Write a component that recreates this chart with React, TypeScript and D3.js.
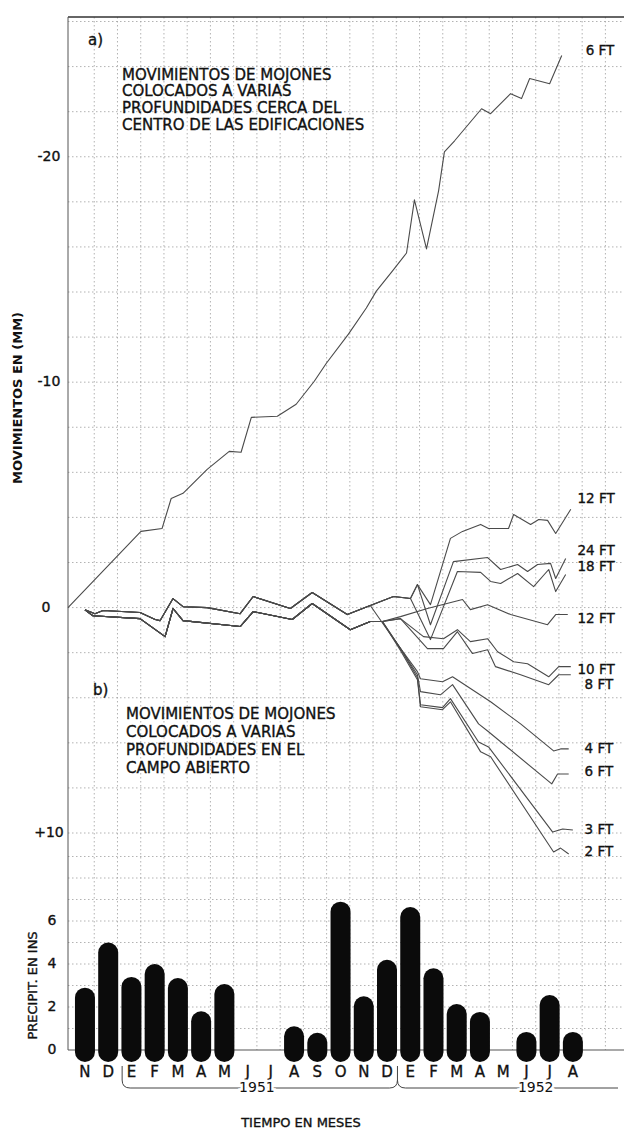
import React from "react";
import * as d3 from "d3";

// ---------- DATA (month index: 0 = N 1950 ; movement in mm, negative = up) ----------
const months = ["N","D","E","F","M","A","M","J","J","A","S","O","N","D","E","F","M","A","M","J","J","A"];
const precip = [2.9,5.0,3.4,4.0,3.35,1.8,3.07,0,0,1.1,0.8,6.9,2.5,4.2,6.65,3.8,2.14,1.77,0,0.84,2.56,0.84];
const mmTicks = [-20, -10, 0, 10];
const mmTickLabels = ["-20", "-10", "0", "+10"];
const precipTicks = [0, 2, 4, 6];

const ft6a = [[-0.73,0],[2.41,-3.38],[3.32,-3.51],[3.71,-4.84],[4.22,-5.07],[5.26,-6.13],[6.21,-6.93],[6.72,-6.89],[7.16,-8.44],[8.28,-8.49],[9.09,-9.02],[9.87,-10.04],[10.39,-10.84],[11.34,-12.13],[12.11,-13.29],[12.54,-14.04],[13.23,-14.93],[13.84,-15.73],[14.18,-18.09],[14.7,-15.91],[15.22,-18.49],[15.47,-20.22],[15.91,-20.71],[17.07,-22.13],[17.46,-21.91],[18.32,-22.8],[18.79,-22.58],[19.14,-23.47],[20.0,-23.24],[20.52,-24.49]];

const pathU = [[0,0.1],[0.43,0.27],[0.78,0.13],[2.37,0.22],[3.02,0.53],[3.23,0.58],[3.79,-0.4],[4.22,-0.04],[5.26,0],[6.68,0.27],[7.24,-0.49],[8.84,0.04],[9.78,-0.67],[11.29,0.31],[12.28,-0.09]];
const pathL = [[0,0.1],[0.34,0.36],[2.37,0.49],[3.45,1.29],[3.79,0.04],[4.22,0.58],[6.68,0.84],[7.24,0.18],[8.92,0.53],[9.78,-0.18],[11.42,0.98],[12.28,0.62],[12.8,0.62]];

const ft12top = [...pathU, [13.28,-0.49],[14.01,-0.4],[14.31,-1.02],[14.87,-0.13],[15.73,-3.07],[16.25,-3.38],[17.03,-3.69],[17.37,-3.51],[18.23,-3.51],[18.45,-4.13],[19.18,-3.69],[19.53,-3.91],[19.91,-3.87],[20.26,-3.29],[20.91,-4.36]];
const ft24 = [...pathU, [13.28,-0.49],[14.01,-0.4],[14.31,-1.02],[14.87,0.76],[15.86,-2.04],[17.33,-2.22],[17.89,-1.69],[18.62,-1.91],[19.05,-1.6],[19.48,-1.91],[20.04,-1.96],[20.26,-1.29],[20.69,-2.18]];
const ft18 = [...pathU, [13.28,-0.49],[14.01,-0.4],[14.87,1.42],[16.03,-1.6],[17.03,-1.56],[17.46,-1.16],[17.89,-1.07],[18.62,-1.51],[19.31,-0.93],[19.96,-1.69],[20.26,-0.71],[20.69,-1.47]];
const ft12mid = [...pathL, [13.58,0.4],[14.74,0.04],[16.25,-0.36],[16.59,0.09],[17.33,-0.13],[18.32,0.31],[19.91,0.76],[20.26,0.31],[20.78,0.31]];
const ft10 = [...pathL, [13.58,0.49],[14.57,1.29],[15.43,1.38],[16.03,0.98],[16.59,1.51],[17.33,1.38],[17.76,1.96],[18.45,2.4],[19.05,2.49],[19.96,3.07],[20.39,2.62],[20.91,2.62]];
const ft8 = [...pathL, [13.58,0.49],[14.74,1.82],[15.43,1.82],[16.03,1.07],[16.68,2.04],[17.33,1.87],[17.67,2.62],[18.75,2.98],[19.96,3.42],[20.39,2.98],[20.91,2.98]];
const ft4 = [...pathU, [13.28,1.38],[14.31,2.84],[14.44,3.16],[15.39,3.29],[15.82,3.07],[17.46,4.18],[18.75,5.16],[20.17,6.36],[20.47,6.27],[20.82,6.27]];
const ft6b = [...pathL, [13.58,1.82],[14.31,2.98],[14.44,3.73],[15.3,3.87],[15.82,3.42],[16.94,5.16],[17.37,5.51],[20.09,7.82],[20.34,7.38],[20.82,7.38]];
const ft3 = [...pathL, [13.58,1.82],[14.31,3.1],[14.44,4.31],[15.39,4.44],[15.73,4.04],[16.94,5.96],[17.37,6.18],[20.13,9.96],[20.56,9.82],[21.0,9.87]];
const ft2 = [...pathL, [13.58,1.9],[14.31,3.2],[14.44,4.4],[15.39,4.53],[15.73,4.18],[17.03,6.4],[17.46,6.62],[20.17,10.84],[20.47,10.67],[20.82,10.93]];

const seriesList = [ft6a, ft12top, ft24, ft18, ft12mid, ft10, ft8, ft4, ft6b, ft3, ft2];
const seriesLabels = ["6 FT","12 FT","24 FT","18 FT","12 FT","10 FT","8 FT","4 FT","6 FT","3 FT","2 FT"];
const labelMm = [-24.7,-4.8,-2.49,-1.82,0.49,2.76,3.42,6.27,7.29,9.87,10.84];
const labelMonth = [21.55,21.2,21.2,21.2,21.2,21.2,21.5,21.5,21.5,21.5,21.5];

const titleA = ["MOVIMIENTOS DE MOJONES","COLOCADOS A VARIAS","PROFUNDIDADES CERCA DEL","CENTRO DE LAS EDIFICACIONES"];
const titleB = ["MOVIMIENTOS DE MOJONES","COLOCADOS A VARIAS","PROFUNDIDADES EN EL","CAMPO ABIERTO"];

export default function App() {
  const W = 624, H = 1130;
  const x = d3.scaleLinear().domain([-0.73, 23.2]).range([68, 624]);
  const y = d3.scaleLinear().domain([-26.2, 10]).range([17, 833]);
  const yp = d3.scaleLinear().domain([0, 9]).range([1050, 856.5]);
  const line = d3.line<number[]>().x(d => x(d[0])).y(d => y(d[1]));
  const font = "'DejaVu Sans', Verdana, sans-serif";

  const vGrid = d3.range(0, 23).map(k => k + 0.4);
  const hGrid = d3.range(-26, 10.1, 2);
  const pGrid = d3.range(1, 10);

  const xB1 = x(1.6), xMid = x(13.45), yBr = 1088;
  const ink = { fill: "#111", stroke: "#111", strokeWidth: 0.35 };

  return (
    <svg width={W} height={H} style={{ position: "absolute", left: 0, top: 0, background: "#fff" }} fontFamily={font}>
      <rect width={W} height={H} fill="#fff" />
      {/* grid */}
      <g stroke="#a0a0a0" strokeWidth={0.8} strokeDasharray="1.5 2.5">
        {vGrid.map((m, i) => <line key={"v" + i} x1={x(m)} x2={x(m)} y1={y(-26.2)} y2={yp(0)} />)}
        {hGrid.map((v, i) => <line key={"h" + i} x1={x(-0.73)} x2={W} y1={y(v)} y2={y(v)} />)}
        {pGrid.map((v, i) => <line key={"p" + i} x1={x(-0.73)} x2={W} y1={yp(v)} y2={yp(v)} />)}
      </g>
      {/* frame */}
      <line x1={x(-0.73)} x2={W} y1={y(-26.2)} y2={y(-26.2)} stroke="#333" strokeWidth={1.6} />
      <line x1={x(-0.73)} x2={x(-0.73)} y1={y(-26.2)} y2={yp(0)} stroke="#555" strokeWidth={1} />
      <line x1={x(-0.73)} x2={W} y1={yp(0)} y2={yp(0)} stroke="#555" strokeWidth={1.2} />

      {/* series */}
      <g fill="none" stroke="#4a4a4a" strokeWidth={1.1} strokeLinejoin="round">
        {seriesList.map((s, i) => <path key={"s" + i} d={line(s) || ""} />)}
      </g>
      <g fontSize={13.5} {...ink}>
        {seriesLabels.map((t, i) => (
          <text key={"l" + i} x={x(labelMonth[i])} y={y(labelMm[i])} dominantBaseline="middle">{t}</text>
        ))}
      </g>

      {/* bars */}
      <g fill="#0b0b0b">
        {precip.map((v, i) => v > 0 ? (
          <rect key={"b" + i} x={x(i) - 10} width={20} y={yp(v)} height={yp(0) + 12 - yp(v)} rx={10} ry={10} />
        ) : null)}
      </g>

      {/* y ticks */}
      <g fontSize={14} {...ink} textAnchor="middle">
        {mmTicks.map((v, i) => <text key={"t" + i} x={v === 0 ? 46 : 49} y={y(v)} dominantBaseline="middle">{mmTickLabels[i]}</text>)}
      </g>
      <g fontSize={14} {...ink} textAnchor="middle">
        {precipTicks.map((v, i) => <text key={"pt" + i} x={52} y={yp(v)} dominantBaseline="middle">{v}</text>)}
      </g>
      <text transform={`translate(18, ${y(-9.3)}) rotate(-90)`} textAnchor="middle" dominantBaseline="middle" fontSize={13} fill="#111" fontWeight="bold">MOVIMIENTOS EN (MM)</text>
      <text transform={`translate(33, ${yp(3.0)}) rotate(-90)`} textAnchor="middle" dominantBaseline="middle" fontSize={13} {...ink}>PRECIPIT. EN INS</text>

      {/* month labels */}
      <g fontSize={15} {...ink} textAnchor="middle">
        {months.map((m, i) => <text key={"m" + i} x={x(i)} y={1077}>{m}</text>)}
      </g>

      {/* year brackets */}
      <g fill="none" stroke="#444" strokeWidth={1}>
        <path d={`M${xB1},1066 V1080 Q${xB1},${yBr} ${xB1 + 8},${yBr} H${xMid - 8} Q${xMid},${yBr} ${xMid},1080 V1066`} />
        <path d={`M${xMid},1080 Q${xMid},${yBr} ${xMid + 8},${yBr} H${W - 6}`} />
      </g>
      <g fontSize={14} fill="#111" textAnchor="middle" stroke="#fff" strokeWidth={5} paintOrder="stroke">
        <text x={x(7.4)} y={yBr} dominantBaseline="middle">1951</text>
        <text x={x(19.4)} y={yBr} dominantBaseline="middle">1952</text>
      </g>
      <text x={301} y={1123} textAnchor="middle" dominantBaseline="middle" fontSize={13} {...ink}>TIEMPO EN MESES</text>

      {/* panel titles */}
      <text x={88} y={40} fontSize={15} {...ink} dominantBaseline="middle">a)</text>
      <g fontSize={15} {...ink}>
        {titleA.map((t, i) => <text key={"ta" + i} x={122} y={75 + i * 16.8} dominantBaseline="middle">{t}</text>)}
      </g>
      <text x={93} y={690} fontSize={15} {...ink} dominantBaseline="middle">b)</text>
      <g fontSize={15} {...ink}>
        {titleB.map((t, i) => <text key={"tb" + i} x={126} y={714 + i * 18} dominantBaseline="middle">{t}</text>)}
      </g>
    </svg>
  );
}
